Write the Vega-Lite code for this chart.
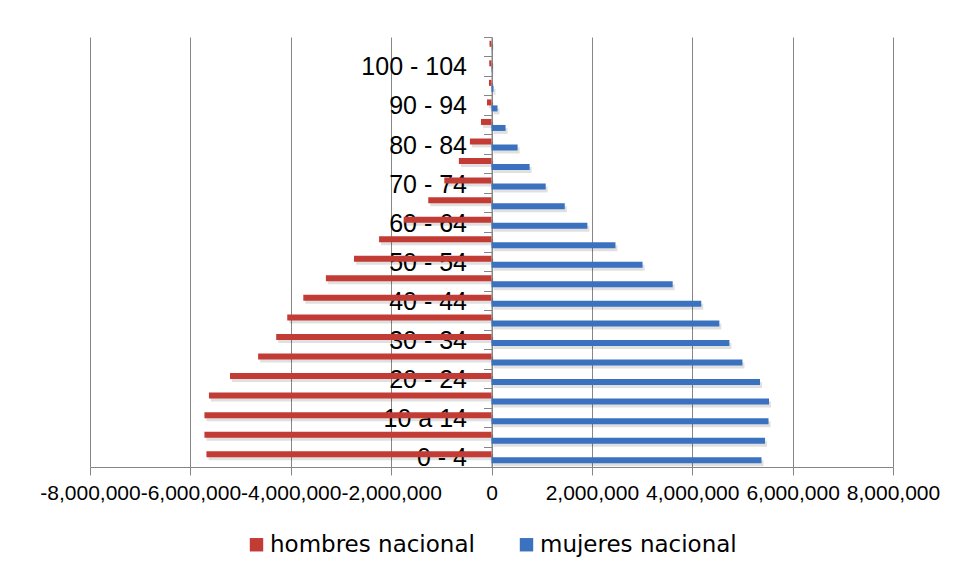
{
  "$schema": "https://vega.github.io/schema/vega-lite/v6.json",
  "width": 803,
  "height": 430,
  "autosize": {"type": "none"},
  "padding": {"left": 90, "top": 37, "right": 65, "bottom": 112},
  "background": "white",
  "config": {"view": {"stroke": null}, "font": "Liberation Sans"},
  "data": {
    "values": [
      {"grupo": "0 - 4", "sexo": "hombres nacional", "pob": -5680000},
      {"grupo": "0 - 4", "sexo": "mujeres nacional", "pob": 5380000},
      {"grupo": "5 - 9", "sexo": "hombres nacional", "pob": -5720000},
      {"grupo": "5 - 9", "sexo": "mujeres nacional", "pob": 5450000},
      {"grupo": "10 a 14", "sexo": "hombres nacional", "pob": -5720000},
      {"grupo": "10 a 14", "sexo": "mujeres nacional", "pob": 5520000},
      {"grupo": "15 - 19", "sexo": "hombres nacional", "pob": -5630000},
      {"grupo": "15 - 19", "sexo": "mujeres nacional", "pob": 5530000},
      {"grupo": "20 - 24", "sexo": "hombres nacional", "pob": -5210000},
      {"grupo": "20 - 24", "sexo": "mujeres nacional", "pob": 5350000},
      {"grupo": "25 - 29", "sexo": "hombres nacional", "pob": -4650000},
      {"grupo": "25 - 29", "sexo": "mujeres nacional", "pob": 5000000},
      {"grupo": "30 - 34", "sexo": "hombres nacional", "pob": -4290000},
      {"grupo": "30 - 34", "sexo": "mujeres nacional", "pob": 4740000},
      {"grupo": "35 - 39", "sexo": "hombres nacional", "pob": -4070000},
      {"grupo": "35 - 39", "sexo": "mujeres nacional", "pob": 4540000},
      {"grupo": "40 - 44", "sexo": "hombres nacional", "pob": -3750000},
      {"grupo": "40 - 44", "sexo": "mujeres nacional", "pob": 4180000},
      {"grupo": "45 - 49", "sexo": "hombres nacional", "pob": -3300000},
      {"grupo": "45 - 49", "sexo": "mujeres nacional", "pob": 3610000},
      {"grupo": "50 - 54", "sexo": "hombres nacional", "pob": -2740000},
      {"grupo": "50 - 54", "sexo": "mujeres nacional", "pob": 3010000},
      {"grupo": "55 - 59", "sexo": "hombres nacional", "pob": -2240000},
      {"grupo": "55 - 59", "sexo": "mujeres nacional", "pob": 2470000},
      {"grupo": "60 - 64", "sexo": "hombres nacional", "pob": -1750000},
      {"grupo": "60 - 64", "sexo": "mujeres nacional", "pob": 1910000},
      {"grupo": "65 - 69", "sexo": "hombres nacional", "pob": -1260000},
      {"grupo": "65 - 69", "sexo": "mujeres nacional", "pob": 1460000},
      {"grupo": "70 - 74", "sexo": "hombres nacional", "pob": -940000},
      {"grupo": "70 - 74", "sexo": "mujeres nacional", "pob": 1080000},
      {"grupo": "75 - 79", "sexo": "hombres nacional", "pob": -650000},
      {"grupo": "75 - 79", "sexo": "mujeres nacional", "pob": 760000},
      {"grupo": "80 - 84", "sexo": "hombres nacional", "pob": -430000},
      {"grupo": "80 - 84", "sexo": "mujeres nacional", "pob": 520000},
      {"grupo": "85 - 89", "sexo": "hombres nacional", "pob": -210000},
      {"grupo": "85 - 89", "sexo": "mujeres nacional", "pob": 280000},
      {"grupo": "90 - 94", "sexo": "hombres nacional", "pob": -90000},
      {"grupo": "90 - 94", "sexo": "mujeres nacional", "pob": 120000},
      {"grupo": "95 - 99", "sexo": "hombres nacional", "pob": -50000},
      {"grupo": "95 - 99", "sexo": "mujeres nacional", "pob": 40000},
      {"grupo": "100 - 104", "sexo": "hombres nacional", "pob": -45000},
      {"grupo": "100 - 104", "sexo": "mujeres nacional", "pob": 8000},
      {"grupo": "105 - 109", "sexo": "hombres nacional", "pob": -40000},
      {"grupo": "105 - 109", "sexo": "mujeres nacional", "pob": 3000}
    ]
  },
  "encoding": {
    "y": {
      "field": "grupo",
      "type": "nominal",
      "scale": {
        "domain": ["105 - 109", "100 - 104", "95 - 99", "90 - 94", "85 - 89", "80 - 84", "75 - 79", "70 - 74", "65 - 69", "60 - 64", "55 - 59", "50 - 54", "45 - 49", "40 - 44", "35 - 39", "30 - 34", "25 - 29", "20 - 24", "15 - 19", "10 a 14", "5 - 9", "0 - 4"],
        "paddingInner": 0,
        "paddingOuter": 0
      },
      "axis": {
        "title": null,
        "offset": -401.5,
        "bandPosition": 0,
        "labelOffset": 1,
        "grid": false,
        "domainColor": "#868686",
        "tickColor": "#868686",
        "tickSize": 8,
        "labelFont": "Liberation Sans",
        "labelFontSize": 25,
        "labelColor": "#000000",
        "labelPadding": 17,
        "labelExpr": "indexof(['0 - 4','10 a 14','20 - 24','30 - 34','40 - 44','50 - 54','60 - 64','70 - 74','80 - 84','90 - 94','100 - 104'], datum.value) >= 0 ? datum.value : ''"
      }
    },
    "x": {
      "field": "pob",
      "type": "quantitative",
      "scale": {"domain": [-8000000, 8000000], "nice": false, "zero": true},
      "axis": {
        "title": null,
        "values": [-8000000, -6000000, -4000000, -2000000, 0, 2000000, 4000000, 6000000, 8000000],
        "grid": true,
        "gridColor": "#868686",
        "gridOpacity": 1,
        "gridWidth": 1,
        "domainColor": "#868686",
        "tickColor": "#868686",
        "tickSize": 8,
        "labelFont": "Liberation Sans",
        "labelFontSize": 21,
        "labelColor": "#000000",
        "labelPadding": 7,
        "labelFlush": false,
        "labelOverlap": false,
        "labelBound": false,
        "labelExpr": "(datum.value < 0 ? '-' : '') + format(abs(datum.value), ',')"
      }
    }
  },
  "layer": [
    {
      "mark": {"type": "bar", "color": "#000000", "opacity": 0.12, "xOffset": 2, "x2Offset": 2},
      "encoding": {
        "yOffset": {
          "field": "sexo",
          "type": "nominal",
          "scale": {"domain": ["hombres nacional", "mujeres nacional"], "paddingInner": 0, "paddingOuter": 0.63, "range": [3, 22.55]}
        }
      }
    },
    {
      "mark": {"type": "bar"},
      "encoding": {
        "yOffset": {
          "field": "sexo",
          "type": "nominal",
          "scale": {"domain": ["hombres nacional", "mujeres nacional"], "paddingInner": 0, "paddingOuter": 0.63}
        },
        "color": {
          "field": "sexo",
          "type": "nominal",
          "scale": {"domain": ["hombres nacional", "mujeres nacional"], "range": ["#C23B35", "#3B72BF"]},
          "legend": {
            "orient": "none",
            "legendX": 155,
            "legendY": 496,
            "direction": "horizontal",
            "title": null,
            "symbolType": "square",
            "symbolSize": 180,
            "symbolStrokeWidth": 0,
            "symbolOpacity": 1,
            "labelFont": "DejaVu Sans",
            "labelFontSize": 23,
            "labelColor": "#000000",
            "labelLimit": 400,
            "labelOffset": 2,
            "columnPadding": 40
          }
        }
      }
    }
  ],
  "resolve": {"scale": {"yOffset": "independent"}}
}
